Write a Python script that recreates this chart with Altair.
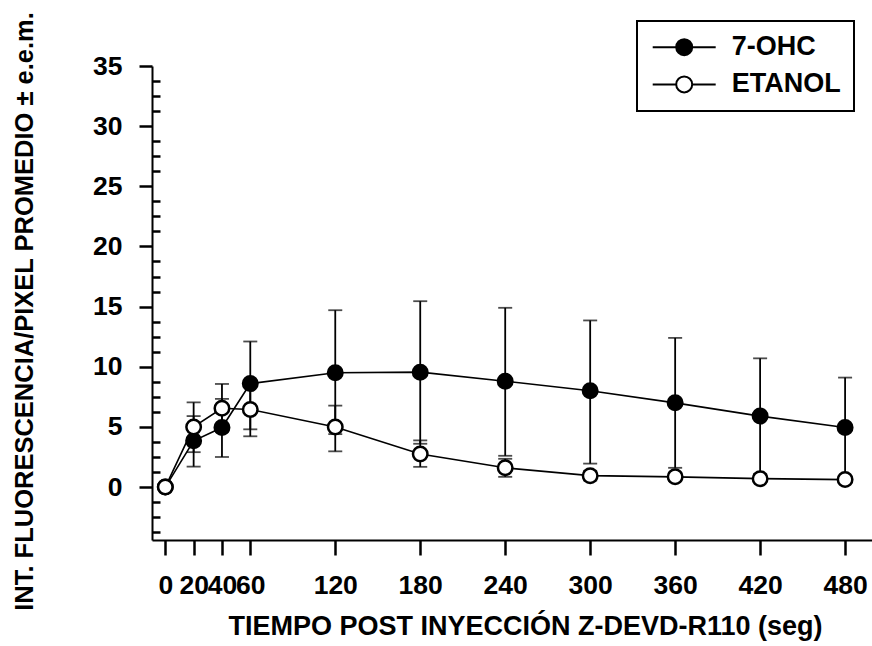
import altair as alt
import pandas as pd

# ---- data ----
time_s = [0, 20, 40, 60, 120, 180, 240, 300, 360, 420, 480]

ohc_mean = [0.0, 3.85, 4.95, 8.6, 9.5, 9.55, 8.8, 8.0, 7.0, 5.9, 4.95]
ohc_low = [0.0, 1.7, 2.5, 4.8, 4.4, 3.6, 2.6, 1.95, 1.6, 1.1, 0.75]
ohc_high = [0.0, 5.9, 7.33, 12.1, 14.7, 15.45, 14.9, 13.85, 12.4, 10.7, 9.1]

eta_mean = [0.0, 5.0, 6.55, 6.45, 5.0, 2.75, 1.6, 0.95, 0.85, 0.7, 0.62]
eta_low = [0.0, 2.9, 4.6, 4.22, 2.97, 1.68, 0.85, 0.55, 0.5, 0.4, 0.35]
eta_high = [0.0, 7.04, 8.57, 8.66, 6.77, 3.88, 2.35, 1.35, 1.2, 1.0, 0.9]

series_names = ["7-OHC", "ETANOL"]
y_major = [0, 5, 10, 15, 20, 25, 30, 35]
y_minor = [-3.75, -2.5, -1.25, 1.25, 2.5, 3.75, 6.25, 7.5, 8.75, 11.25, 12.5, 13.75,
           16.25, 17.5, 18.75, 21.25, 22.5, 23.75, 26.25, 27.5, 28.75, 31.25, 32.5, 33.75]

rows = []
for name, m, lo, hi in [(series_names[0], ohc_mean, ohc_low, ohc_high),
                        (series_names[1], eta_mean, eta_low, eta_high)]:
    for i, t in enumerate(time_s):
        rows.append({"t": t, "serie": name, "m": m[i], "lo": lo[i], "hi": hi[i]})
df = pd.DataFrame(rows)

FONT = "Liberation Sans"
xscale = alt.Scale(domain=[-9.4, 499], nice=False, zero=False)
yscale = alt.Scale(domain=[-4.4, 35], nice=False, zero=False)

x_axis = alt.Axis(
    values=time_s, title="TIEMPO POST INYECCIÓN Z-DEVD-R110 (seg)", grid=False,
    domainColor="black", domainWidth=2, tickColor="black", tickWidth=2.5, tickSize=15,
    labelFont=FONT, labelFontSize=26.5, labelFontWeight="bold", labelColor="black",
    labelPadding=17, labelOverlap=False, labelFlush=False,
    titleFont=FONT, titleFontSize=27, titleFontWeight="bold", titleColor="black",
    titleX=373, titleY=94, titleBaseline="alphabetic", titleAlign="center",
)
y_axis = alt.Axis(
    values=y_major, title="INT. FLUORESCENCIA/PIXEL PROMEDIO ± e.e.m.", grid=False,
    domainColor="black", domainWidth=2, tickColor="black", tickWidth=2.5, tickSize=13,
    labelFont=FONT, labelFontSize=26.5, labelFontWeight="bold", labelColor="black",
    labelPadding=17, labelOverlap=False,
    titleFont=FONT, titleFontSize=25.5, titleFontWeight="bold", titleColor="black",
    titleX=-120, titleY=245, titleBaseline="alphabetic", titleAlign="center", titleAngle=270,
    orient="left",
)
y_minor_axis = alt.Axis(
    values=y_minor, title=None, grid=False, domain=False, labels=False,
    tickColor="black", tickWidth=2.5, tickSize=8, offset=-8, orient="left",
)

base = alt.Chart(df)

rules = base.mark_rule(color="black", strokeWidth=1.8).encode(
    x=alt.X("t:Q", scale=xscale, axis=x_axis),
    y=alt.Y("lo:Q", scale=yscale, axis=y_minor_axis),
    y2="hi:Q",
    detail="serie:N",
)

caps = base.transform_fold(["lo", "hi"], as_=["k", "v"]).mark_tick(
    color="black", orient="horizontal", size=14, thickness=1.8
).encode(
    x=alt.X("t:Q", scale=xscale, axis=x_axis),
    y=alt.Y("v:Q", scale=yscale, axis=y_axis),
    detail="serie:N",
)

lines = base.mark_line(color="black", strokeWidth=1.6).encode(
    x=alt.X("t:Q", scale=xscale, axis=x_axis),
    y=alt.Y("m:Q", scale=yscale, axis=y_axis),
    detail="serie:N",
)

SYMBOL = "M-3.15,0H-0.8M0.8,0H3.15M0.8,0A0.8,0.8,0,1,1,-0.8,0A0.8,0.8,0,1,1,0.8,0Z"

points = base.mark_point(filled=True, shape="circle", size=210, stroke="black",
                         strokeWidth=2.5, opacity=1).encode(
    x=alt.X("t:Q", scale=xscale, axis=x_axis),
    y=alt.Y("m:Q", scale=yscale, axis=y_axis),
    fill=alt.Fill("serie:N", scale=alt.Scale(domain=series_names, range=["black", "white"]),
                  legend=alt.Legend(
                      title=None, orient="none", legendX=485, legendY=-45,
                      symbolType=SYMBOL, symbolSize=400, symbolStrokeColor="black",
                      symbolStrokeWidth=2, symbolOffset=21, symbolOpacity=1,
                      labelOffset=34, labelFont=FONT, labelFontSize=27,
                      labelFontWeight="bold", labelColor="black",
                      padding=12.7, rowPadding=9.2, strokeColor="black",
                      fillColor="white", cornerRadius=0,
                  )),
)

inner = alt.layer(caps, lines, points)
chart = alt.layer(rules, inner).resolve_axis(y="independent").properties(
    width=720, height=474,
    autosize=alt.AutoSizeParams(type="none"),
    padding={"left": 152, "top": 66, "right": 0, "bottom": 106},
    background="white",
).configure_view(stroke=None).configure_legend(strokeWidth=2)

chart.save("out.html", embed_options={"renderer": "svg", "actions": False})
